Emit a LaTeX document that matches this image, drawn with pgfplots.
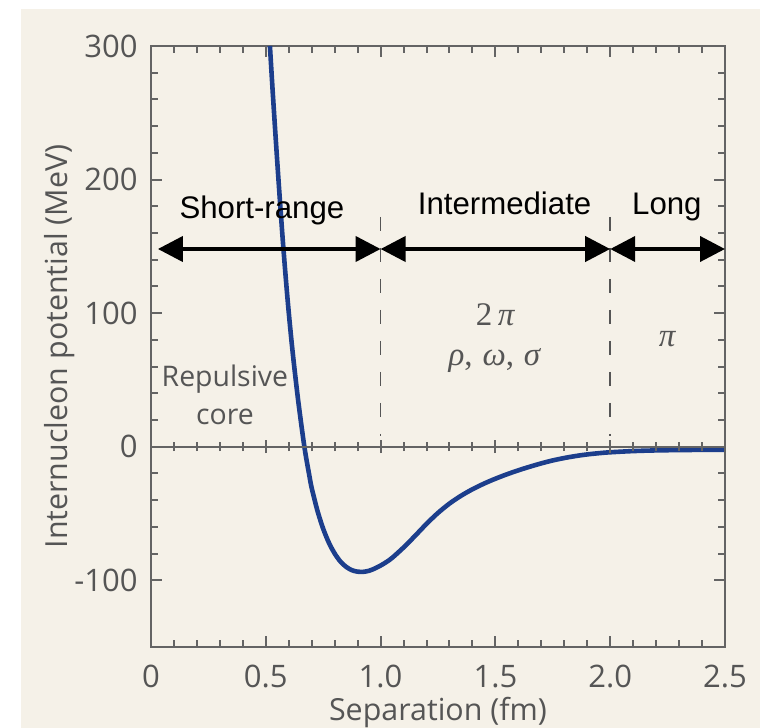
\documentclass[border=0pt]{standalone}
\usepackage{fontspec}
\setmainfont{Open Sans}
\newfontfamily\arialf{Liberation Sans}
\newfontfamily\timesf{Liberation Serif}
\usepackage{pgfplots}
\pgfplotsset{compat=1.18}
\usetikzlibrary{arrows.meta}

\definecolor{paper}{RGB}{245,241,232}
\definecolor{axisgray}{RGB}{100,100,100}
\definecolor{labelgray}{RGB}{85,85,85}
\definecolor{curveblue}{RGB}{28,62,140}

\newcommand{\tck}{\fontsize{15.5}{18}\selectfont}
\newcommand{\lbl}{\fontsize{15.2}{18}\selectfont}
\newcommand{\note}{\fontsize{14.2}{17}\selectfont}
\newcommand{\rng}{\arialf\fontsize{15.6}{18}\selectfont}
\newcommand{\grk}{\timesf\fontsize{16.5}{19}\selectfont}

\pgfplotstableread{
x      V
0.518  300
0.530  266
0.545  226
0.560  188
0.576  150
0.595  110
0.615  74
0.640  36
0.668  0
0.690  -22
0.700  -31
0.725  -48
0.750  -61.5
0.775  -72
0.800  -80
0.825  -86
0.850  -90
0.875  -92.5
0.900  -93.6
0.925  -93.7
0.950  -92.9
0.975  -91.2
1.000  -89.0
1.025  -86.4
1.050  -83.3
1.100  -75.5
1.150  -66.8
1.200  -57.8
1.250  -49.6
1.300  -42.6
1.350  -36.8
1.400  -31.9
1.450  -27.7
1.500  -24.0
1.550  -20.7
1.600  -17.7
1.650  -15.0
1.700  -12.5
1.750  -10.3
1.800  -8.5
1.850  -7.0
1.900  -5.8
1.950  -4.9
2.000  -4.2
2.100  -3.3
2.200  -2.8
2.300  -2.55
2.400  -2.4
2.500  -2.3
}\potential

\begin{document}
\begin{tikzpicture}
% page and paper
\path[use as bounding box] (-75.5pt,-40.5pt) rectangle (307.5pt,323.5pt);
\fill[white] (-75.5pt,-40.5pt) rectangle (307.5pt,323.5pt);
\fill[paper] (-65pt,-40.5pt) rectangle (304.5pt,319pt);

\begin{axis}[
  at={(0,0)}, anchor=south west,
  scale only axis, width=287pt, height=300.5pt,
  xmin=0, xmax=2.5, ymin=-150, ymax=300,
  xtick={0,0.5,1,1.5,2,2.5},
  xticklabels={0,0.5,1.0,1.5,2.0,2.5},
  ytick={-100,0,100,200,300},
  yticklabels={-100,0,100,200,300},
  minor x tick num=4, minor y tick num=4,
  tick align=inside,
  major tick length=5.5pt, minor tick length=3.5pt,
  every tick/.style={axisgray, line width=1pt},
  axis line style={axisgray, line width=1pt},
  /pgf/number format/assume math mode=true,
  tick label style={font=\tck, text=labelgray},
  xticklabel style={inner sep=0pt, yshift=-9pt},
  yticklabel style={inner sep=0pt, xshift=-6.5pt},
  xlabel={Separation (fm)}, ylabel={Internucleon potential (MeV)},
  every axis x label/.style={at={(axis description cs:0.5,0)}, anchor=base, yshift=-36.5pt, font=\lbl, text=labelgray},
  every axis y label/.style={at={(axis description cs:-0.1463,0.5)}, anchor=base, rotate=90, font=\lbl, text=labelgray},
  clip=false,
]
% range boundaries
\draw[labelgray, line width=0.8pt, dash pattern=on 7pt off 8.5pt] (axis cs:1,172) -- (axis cs:1,8);
\draw[labelgray, line width=0.8pt, dash pattern=on 7pt off 8.5pt] (axis cs:2,172) -- (axis cs:2,8);

\addplot[curveblue, line width=2.3pt, smooth, tension=0.5] table[x=x, y=V] {\potential};

% range arrows
\draw[black, line width=2pt, {Triangle[length=12.5pt,width=12.5pt]}-{Triangle[length=12.5pt,width=12.5pt]}] (axis cs:0.03,148) -- (axis cs:1,148);
\draw[black, line width=2pt, {Triangle[length=12.5pt,width=12.5pt]}-{Triangle[length=12.5pt,width=12.5pt]}] (axis cs:1,148) -- (axis cs:2,148);
\draw[black, line width=2pt, {Triangle[length=12.5pt,width=12.5pt]}-{Triangle[length=12.5pt,width=12.5pt]}] (axis cs:2,148) -- (axis cs:2.5,148);

\node[anchor=base, font=\rng, inner sep=0pt] at (axis cs:0.483,171) {Short-range};
\node[anchor=base, font=\rng, inner sep=0pt] at (axis cs:1.54,173.5) {Intermediate};
\node[anchor=base, font=\rng, inner sep=0pt] at (axis cs:2.247,173.5) {Long};

\node[anchor=base, font=\note, text=labelgray, inner sep=0pt] at (axis cs:0.322,45.4) {Repulsive};
\node[anchor=base, font=\note, text=labelgray, inner sep=0pt] at (axis cs:0.322,16.7) {core};

\node[anchor=base, font=\grk, text=labelgray, inner sep=0pt] at (axis cs:1.5,90.8) {2\,\textit{π}};
\node[anchor=base, font=\grk, text=labelgray, inner sep=0pt] at (axis cs:1.498,60.9) {\textit{ρ},\hspace{0.3em}\textit{ω},\hspace{0.3em}\textit{σ}};
\node[anchor=base, font=\grk, text=labelgray, inner sep=0pt] at (axis cs:2.25,75.3) {\textit{π}};
\end{axis}

% zero line with centred ticks
\begin{axis}[
  at={(0,0)}, anchor=south west,
  scale only axis, width=287pt, height=300.5pt,
  xmin=0, xmax=2.5, ymin=-150, ymax=300,
  axis x line=middle, axis y line=none,
  axis line style={-, axisgray, line width=1pt},
  xtick={0,0.5,1,1.5,2,2.5}, xticklabels={},
  minor x tick num=4,
  tick align=center,
  major tick length=6.5pt, minor tick length=4.5pt,
  every tick/.style={axisgray, line width=1pt},
]
\end{axis}
\end{tikzpicture}
\end{document}
